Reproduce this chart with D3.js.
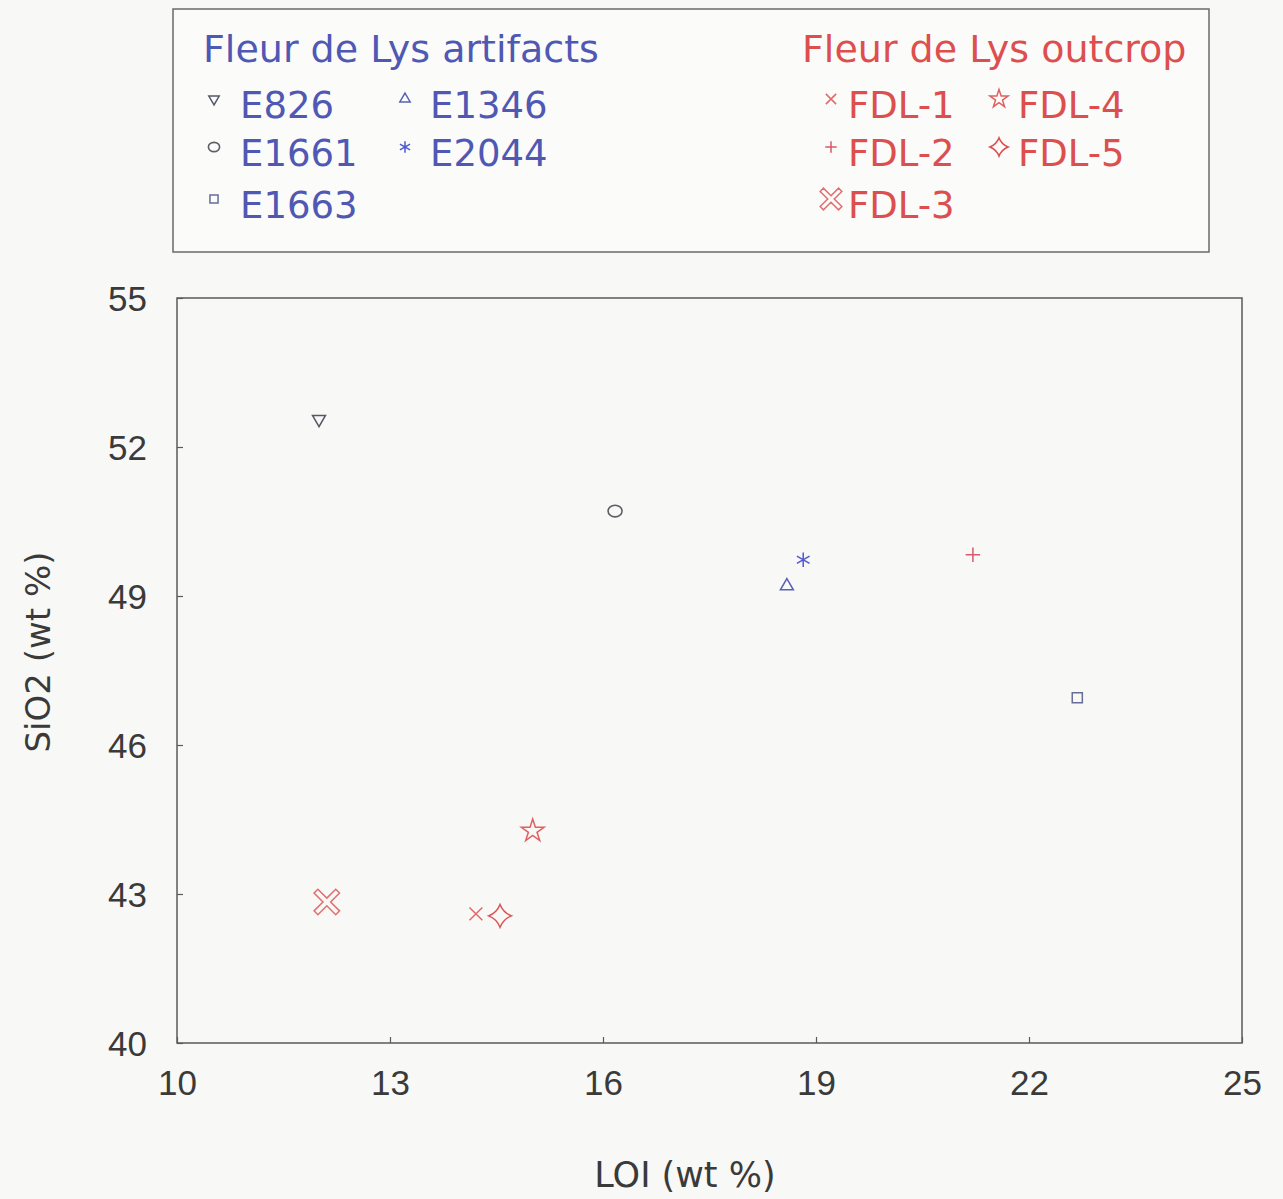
<!DOCTYPE html>
<html>
<head>
<meta charset="utf-8">
<script src="https://cdn.jsdelivr.net/npm/d3@7"></script>
<style>
  body { margin: 0; background: #f8f8f6; }
  svg { display: block; font-family: "DejaVu Sans", sans-serif; }
</style>
</head>
<body>
<script>
// values
const samples = ["E826", "E1346", "E1661", "E2044", "E1663", "FDL-1", "FDL-2", "FDL-3", "FDL-4", "FDL-5"];
const loi     = [12.0, 18.59, 16.17, 18.82, 22.68, 14.21, 21.21, 12.11, 15.01, 14.55];
const sio2    = [52.56, 49.20, 50.71, 49.73, 46.95, 42.60, 49.83, 42.84, 44.27, 42.56];
const xTicks  = [10, 13, 16, 19, 22, 25];
const yTicks  = [40, 43, 46, 49, 52, 55];
// legend reading order (two columns, filled row by row)
const legendArt = ["E826", "E1346", "E1661", "E2044", "E1663"];
const legendOut = ["FDL-1", "FDL-4", "FDL-2", "FDL-5", "FDL-3"];

const blue = "#4f58b3", red = "#dd4f4f";

// concave four point star used for FDL-5
const sparkle = {
  draw(ctx, size) {
    const r = Math.sqrt(size) / 2, k = r * 0.28;
    ctx.moveTo(0, -r);
    ctx.quadraticCurveTo(k, -k, r, 0);
    ctx.quadraticCurveTo(k, k, 0, r);
    ctx.quadraticCurveTo(-k, k, -r, 0);
    ctx.quadraticCurveTo(-k, -k, 0, -r);
    ctx.closePath();
  }
};

// outlined X with slim arms used for FDL-3
const fatX = {
  draw(ctx, size) {
    const r = Math.sqrt(size) / 2, w = r * 0.3;
    const pts = [[0, -w], [r - w, -r], [r, -r + w], [w, 0], [r, r - w], [r - w, r],
                 [0, w], [-r + w, r], [-r, r - w], [-w, 0], [-r, -r + w], [-r + w, -r]];
    pts.forEach((p, i) => i ? ctx.lineTo(p[0], p[1]) : ctx.moveTo(p[0], p[1]));
    ctx.closePath();
  }
};

// marker look for every sample: symbol, size, rotation, colour
const markers = {
  "E826":  { type: d3.symbolTriangle2, size: 120, rot: 180, color: "#55586a" },
  "E1346": { type: d3.symbolTriangle2, size: 120, rot: 0, color: "#5a62b0" },
  "E1661": { type: "ellipse", size: 0, rot: 0, color: "#5e5e66" },
  "E2044": { type: d3.symbolAsterisk, size: 150, rot: 0, color: "#4f5ad0" },
  "E1663": { type: d3.symbolSquare2, size: 130, rot: 0, color: "#676d98" },
  "FDL-1": { type: d3.symbolTimes, size: 110, rot: 0, color: "#e06a6a" },
  "FDL-2": { type: d3.symbolPlus, size: 70, rot: 0, color: "#d85a6a" },
  "FDL-3": { type: fatX, size: 650, rot: 0, color: "#e07070" },
  "FDL-4": { type: d3.symbolStar, size: 160, rot: 0, color: "#df6060" },
  "FDL-5": { type: sparkle, size: 520, rot: 0, color: "#dc5050" }
};

const svg = d3.select("body").append("svg")
  .attr("width", 1283)
  .attr("height", 1199);

function drawMarker(g, name, cx, cy, scale) {
  const m = markers[name];
  if (m.type === "ellipse") {
    g.append("ellipse")
      .attr("cx", cx).attr("cy", cy)
      .attr("rx", 7 * scale).attr("ry", 5.8 * scale)
      .attr("fill", "none").attr("stroke", m.color).attr("stroke-width", 1.6);
    return;
  }
  g.append("path")
    .attr("d", d3.symbol().type(m.type).size(m.size * scale * scale)())
    .attr("transform", `translate(${cx},${cy}) rotate(${m.rot})`)
    .attr("fill", "none")
    .attr("stroke", m.color)
    .attr("stroke-width", 1.5);
}

// ---- plot area
const plotL = 177, plotR = 1242, plotT = 298, plotB = 1043;

const x = d3.scaleLinear().domain([10, 25]).range([plotL, plotR]);
const y = d3.scaleLinear().domain([40, 55]).range([plotB, plotT]);

svg.append("rect")
  .attr("x", plotL).attr("y", plotT)
  .attr("width", plotR - plotL).attr("height", plotB - plotT)
  .attr("fill", "none").attr("stroke", "#5a5a5a").attr("stroke-width", 1.5);

const xAxis = svg.append("g")
  .attr("transform", `translate(0,${plotB})`)
  .call(d3.axisBottom(x).tickValues(xTicks).tickSizeInner(-6).tickSizeOuter(0).tickPadding(27));
const yAxis = svg.append("g")
  .attr("transform", `translate(${plotL},0)`)
  .call(d3.axisLeft(y).tickValues(yTicks).tickSizeInner(-6).tickSizeOuter(0).tickPadding(30));

[xAxis, yAxis].forEach(a => {
  a.select(".domain").remove();
  a.selectAll("line").attr("stroke", "#5a5a5a").attr("stroke-width", 1.2);
  a.selectAll("text").attr("fill", "#3a3a3a").style("font-size", "35px");
});
xAxis.selectAll("text").attr("dy", "0.71em");
yAxis.selectAll("text").attr("dy", "0.36em");

svg.append("text")
  .attr("x", 685).attr("y", 1187)
  .attr("text-anchor", "middle")
  .attr("fill", "#3a3a3a").style("font-size", "35px")
  .text("LOI  (wt %)");

svg.append("text")
  .attr("transform", "translate(50,652) rotate(-90)")
  .attr("text-anchor", "middle")
  .attr("fill", "#3a3a3a").style("font-size", "34px")
  .text("SiO2  (wt %)");

const pts = svg.append("g");
samples.forEach((s, i) => drawMarker(pts, s, x(loi[i]), y(sio2[i]), 1));

// ---- legend
svg.append("rect")
  .attr("x", 173).attr("y", 9)
  .attr("width", 1036).attr("height", 243)
  .attr("fill", "#fbfbfa").attr("stroke", "#6a6a6a").attr("stroke-width", 1.5);

const lg = svg.append("g");

lg.append("text")
  .attr("x", 203).attr("y", 62)
  .attr("fill", blue).style("font-size", "38px")
  .text("Fleur de Lys artifacts");
lg.append("text")
  .attr("x", 802).attr("y", 62)
  .attr("fill", red).style("font-size", "38px")
  .text("Fleur de Lys outcrop");

// legend slots: marker position and label start per column
const slots = [
  { list: legendArt, color: blue, cols: [[214, 240], [405, 430]] },
  { list: legendOut, color: red, cols: [[831, 848], [999, 1018]] }
];
const rowY = [118, 166, 218];

slots.forEach(block => {
  block.list.forEach((s, j) => {
    const col = j % 2, row = Math.floor(j / 2);
    const [mx, tx] = block.cols[col];
    drawMarker(lg, s, mx, rowY[row] - 19, s === "FDL-3" ? 0.85 : 0.8);
    lg.append("text")
      .attr("x", tx).attr("y", rowY[row])
      .attr("fill", block.color)
      .style("font-size", "37px")
      .text(s);
  });
});
</script>
</body>
</html>
